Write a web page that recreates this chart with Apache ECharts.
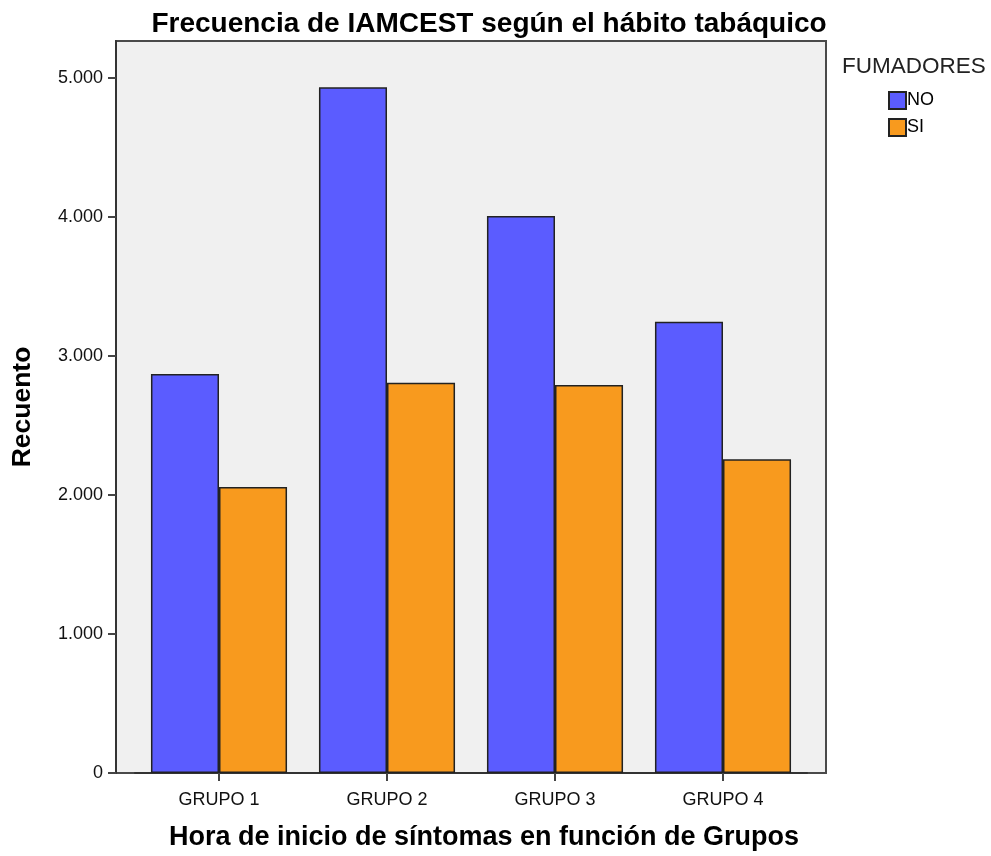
<!DOCTYPE html>
<html>
<head>
<meta charset="utf-8">
<script src="https://cdn.jsdelivr.net/npm/echarts@6/dist/echarts.min.js"></script>
<style>html,body{margin:0;padding:0;background:#fff;}#c{width:991px;height:856px;}</style>
</head>
<body>
<div id="c"></div>
<script>
const categories = ['GRUPO 1', 'GRUPO 2', 'GRUPO 3', 'GRUPO 4'];
const seriesNames = ['NO', 'SI'];
const valuesNO = [2870, 4933, 4007, 3247];
const valuesSI = [2058, 2808, 2791, 2257];
const yTicks = [0, 1000, 2000, 3000, 4000, 5000];

const chart = echarts.init(document.getElementById('c'));
const font = '"Liberation Sans", Arial, sans-serif';
function fmt(v) { return v === 0 ? '0' : String(v).replace(/\B(?=(\d{3})+(?!\d))/g, '.'); }
chart.setOption({
  animation: false,
  textStyle: { fontFamily: font },
  title: [
    { text: 'Frecuencia de IAMCEST según el hábito tabáquico', left: 484, top: 5, textAlign: 'center',
      textStyle: { fontFamily: font, fontSize: 28, fontWeight: 'bold', color: '#000' } },
    { text: 'FUMADORES', left: 837, top: 50,
      textStyle: { fontFamily: font, fontSize: 22.5, fontWeight: 'normal', color: '#222' } }
  ],
  legend: {
    orient: 'vertical', left: 888, top: 91, padding: 0, itemWidth: 17, itemHeight: 17, itemGap: 8,
    icon: 'rect', data: seriesNames,
    textStyle: { fontFamily: font, fontSize: 18, lineHeight: 18, color: '#000', padding: [0, 0, 0, -4] }
  },
  grid: [
    { left: 116, right: 165, top: 41, bottom: 83, show: true, backgroundColor: '#f0f0f0',
      borderColor: '#4a4a4a', borderWidth: 2 },
    { left: 135, right: 184, top: 41, bottom: 83 }
  ],
  xAxis: [
    { gridIndex: 0, type: 'value', show: false },
    {
      gridIndex: 1, type: 'category', data: categories,
      name: 'Hora de inicio de síntomas en función de Grupos', nameLocation: 'middle', nameGap: 51,
      nameTextStyle: { fontFamily: font, fontSize: 27, fontWeight: 'bold', color: '#000', padding: [0, 0, 0, 26] },
      axisLine: { show: true, lineStyle: { color: '#333', width: 2 } },
      axisTick: { show: true, alignWithLabel: true, length: 8, lineStyle: { color: '#444', width: 2 } },
      axisLabel: { fontFamily: font, fontSize: 18, color: '#111', margin: 18 }
    }
  ],
  yAxis: [
    { gridIndex: 0, type: 'value', show: false },
    {
      gridIndex: 1, type: 'value', min: 0, max: 5266, interval: 1000, offset: 19,
      name: 'Recuento', nameLocation: 'middle', nameGap: 80,
      nameTextStyle: { fontFamily: font, fontSize: 26.5, fontWeight: 'bold', color: '#000' },
      axisLine: { show: true, lineStyle: { color: '#333', width: 2 } },
      axisTick: { show: true, length: 8, customValues: yTicks, lineStyle: { color: '#444', width: 2 } },
      axisLabel: { fontFamily: font, fontSize: 18, color: '#111', margin: 13, customValues: yTicks,
        formatter: v => yTicks.includes(v) ? fmt(v) : '' },
      splitLine: { show: false }
    }
  ],
  series: [
    { name: seriesNames[0], type: 'bar', xAxisIndex: 1, yAxisIndex: 1, data: valuesNO, barGap: '0%', barCategoryGap: '19%',
      itemStyle: { color: '#5b5cff', borderColor: '#222', borderWidth: 1.5 } },
    { name: seriesNames[1], type: 'bar', xAxisIndex: 1, yAxisIndex: 1, data: valuesSI, barGap: '0%', barCategoryGap: '19%',
      itemStyle: { color: '#f89a1e', borderColor: '#222', borderWidth: 1.5 } }
  ]
});
</script>
</body>
</html>
